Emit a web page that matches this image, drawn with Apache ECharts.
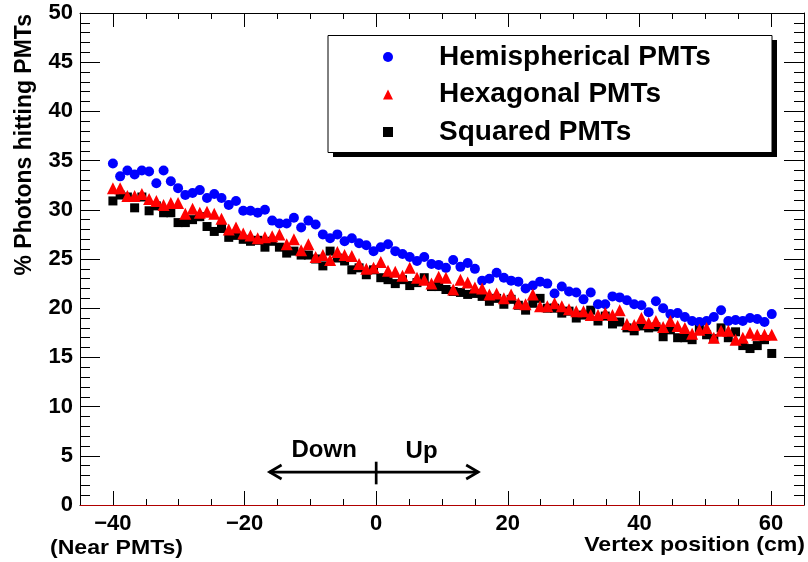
<!DOCTYPE html>
<html>
<head>
<meta charset="utf-8">
<script src="https://cdn.jsdelivr.net/npm/echarts@6/dist/echarts.min.js"></script>
<style>html,body{margin:0;padding:0;background:#fff}#c{width:808px;height:562px}</style>
</head>
<body>
<div id="c"></div>
<script>
// Vertex positions (cm)
var xPos = [-40,-38.9,-37.8,-36.7,-35.6,-34.5,-33.4,-32.3,-31.2,-30.1,-29,-27.9,-26.8,-25.7,-24.6,-23.5,-22.4,-21.3,-20.2,-19.1,
  -18,-16.9,-15.8,-14.7,-13.6,-12.5,-11.4,-10.3,-9.2,-8.1,-7,-5.9,-4.8,-3.7,-2.6,-1.5,-0.4,0.7,1.8,2.9,
  4,5.1,6.2,7.3,8.4,9.5,10.6,11.7,12.8,13.9,15,16.1,17.2,18.3,19.4,20.5,21.6,22.7,23.8,24.9,
  26,27.1,28.2,29.3,30.4,31.5,32.6,33.7,34.8,35.9,37,38.1,39.2,40.3,41.4,42.5,43.6,44.7,45.8,46.9,
  48,49.1,50.2,51.3,52.4,53.5,54.6,55.7,56.8,57.9,59,60.1];
var hemispherical = [34.7,33.4,34.0,33.6,34.0,33.9,32.7,34.0,32.9,32.2,31.5,31.7,32.0,31.2,31.6,31.2,30.5,30.9,29.9,29.9,
  29.7,30.0,28.9,28.6,28.6,29.2,28.2,28.9,28.5,27.5,27.1,27.5,26.8,27.1,26.6,26.4,25.8,26.2,26.5,25.8,
  25.5,25.2,24.8,25.2,24.5,24.4,24.1,24.9,24.2,24.6,24.0,22.8,23.0,23.6,23.1,22.8,22.7,22.0,22.3,22.7,
  22.5,21.5,22.2,21.7,21.6,20.9,21.6,20.4,20.4,21.2,21.1,20.8,20.4,20.3,19.6,20.7,20.0,19.4,19.5,19.1,
  18.7,18.6,18.7,19.1,19.8,18.7,18.8,18.7,19.0,18.9,18.6,19.4];
var hexagonal = [32.2,32.2,31.4,31.4,31.6,31.1,30.9,30.5,30.7,30.7,29.6,30.1,29.7,29.8,29.6,29.1,28.0,28.2,27.6,27.4,
  27.1,27.2,27.3,27.5,26.5,27.0,25.9,26.5,25.2,25.4,24.9,25.7,25.4,25.3,24.5,24.0,24.1,24.7,23.8,23.7,
  23.3,24.1,23.1,22.9,22.5,23.2,23.1,21.9,22.9,22.6,22.1,22.0,21.4,21.5,21.0,21.4,20.5,20.4,21.4,20.2,
  20.2,20.5,20.2,19.9,19.7,19.7,19.3,19.3,19.5,19.3,19.8,18.4,18.3,19.0,18.5,18.7,18.1,18.7,18.2,18.0,
  17.4,17.8,18.0,17.0,17.7,17.7,16.8,17.0,17.5,17.3,17.3,17.3];
var squared = [30.9,31.5,31.3,30.2,31.3,29.9,30.4,29.7,29.7,28.7,28.7,29.0,29.3,28.3,27.8,28.1,27.2,27.4,27.0,26.8,
  26.9,26.2,26.8,26.2,25.6,25.8,25.4,25.4,25.0,24.3,25.8,25.1,24.8,23.9,24.1,23.4,23.9,23.1,22.9,22.5,
  22.9,22.3,22.6,23.1,22.2,22.2,21.9,21.7,21.6,21.4,21.5,21.2,20.7,21.0,20.4,20.9,20.3,19.8,20.5,21.0,
  20.0,20.0,19.5,19.7,19.0,19.3,19.8,18.7,19.2,18.4,18.6,18.0,17.7,18.2,18.0,18.1,17.1,17.8,17.0,17.0,
  16.8,18.0,17.3,16.9,18.0,17.0,17.6,16.2,15.9,16.2,16.8,15.4];
var seriesNames = ['Hemispherical PMTs', 'Hexagonal PMTs', 'Squared PMTs'];
var xTicks = [-40, -20, 0, 20, 40, 60];
var yTicks = [0, 5, 10, 15, 20, 25, 30, 35, 40, 45, 50];

function zip(ys) { return xPos.map(function (x, i) { return [x, ys[i]]; }); }

var FONT = '"Liberation Sans", Arial, sans-serif';
var chart = echarts.init(document.getElementById('c'), null, { renderer: 'canvas' });

var LINE = { show: true, onZero: false, lineStyle: { color: '#000', width: 1 } };
var NOLINE = { show: false, onZero: false };

function xAxisDef(pos, tickLen, major, withLabel) {
  var a = {
    type: 'value', min: -45, max: 65, interval: 5, position: pos,
    axisLine: major ? NOLINE : LINE,
    splitLine: { show: false },
    axisTick: { show: true, inside: true, length: tickLen, lineStyle: { color: '#000' } },
    axisLabel: { show: false }
  };
  if (major) a.axisTick.customValues = xTicks;
  if (withLabel) {
    a.axisLabel = { show: true, margin: 8, color: '#000', fontFamily: FONT, fontWeight: 'bold', fontSize: 22,
      customValues: xTicks,
      formatter: function (v) { return xTicks.indexOf(v) >= 0 ? String(v).replace('-', '\u2212') : ''; } };
  }
  return a;
}
function yAxisDef(pos, withLabel) {
  var a = {
    type: 'value', min: 0, max: 50, interval: 5, position: pos,
    axisLine: LINE,
    splitLine: { show: false },
    axisTick: { show: true, inside: true, length: 20, lineStyle: { color: '#000' } },
    minorTick: { show: true, splitNumber: 5, length: 10, lineStyle: { color: '#000' } },
    axisLabel: { show: false }
  };
  if (withLabel) {
    a.axisLabel = { show: true, margin: 7, color: '#000', fontFamily: FONT, fontWeight: 'bold', fontSize: 22,
      formatter: function (v) { return yTicks.indexOf(v) >= 0 ? String(v) : ''; } };
  }
  return a;
}

var option = {
  animation: false,
  backgroundColor: '#fff',
  grid: { left: 80, right: 4, top: 13, bottom: 57, containLabel: false },
  xAxis: [
    xAxisDef('bottom', 6, false, true),
    xAxisDef('top', 6, false, false),
    xAxisDef('bottom', 14, true, false),
    xAxisDef('top', 14, true, false)
  ],
  yAxis: [yAxisDef('left', true), yAxisDef('right', false)],
  legend: {
    left: 378, top: 38, orient: 'vertical', itemGap: 9.5, itemWidth: 10, itemHeight: 10,
    data: seriesNames,
    textStyle: { color: '#000', fontFamily: FONT, fontWeight: 'bold', fontSize: 28, padding: [0, 0, 0, 41] },
    z: 10
  },
  series: [
    { name: seriesNames[0], type: 'scatter', data: zip(hemispherical), symbol: 'circle', symbolSize: 10,
      itemStyle: { color: '#0000ff', opacity: 1 }, z: 3,
      markLine: { silent: true, symbol: 'none', label: { show: false },
        lineStyle: { color: '#b00000', width: 1, type: 'solid' }, data: [{ yAxis: 0 }] } },
    { name: seriesNames[1], type: 'scatter', data: zip(hexagonal), symbol: 'triangle', symbolSize: 12,
      itemStyle: { color: '#ff0000', opacity: 1 }, z: 4 },
    { name: seriesNames[2], type: 'scatter', data: zip(squared), symbol: 'rect', symbolSize: 9,
      itemStyle: { color: '#000000', opacity: 1 }, z: 2 }
  ]
};
chart.setOption(option);

// Annotations placed through the chart's own coordinate conversion
function px(x, y) { return chart.convertToPixel({ gridIndex: 0 }, [x, y]); }
var aL = px(-16.2, 3.35), aR = px(15.5, 3.35), t1 = px(0, 4.4), t2 = px(0, 2.1);
var ah = 12, aw = 7;
chart.setOption({
  graphic: [
    { type: 'rect', shape: { x: 333, y: 40, width: 444, height: 117 }, style: { fill: '#000' }, z: 1 },
    { type: 'rect', shape: { x: 328, y: 35.5, width: 444, height: 117 }, style: { fill: '#fff', stroke: '#000', lineWidth: 1 }, z: 2 },
    { type: 'text', x: 25, y: 14, rotation: Math.PI / 2,
      style: { text: '% Photons hitting PMTs', fill: '#000', font: 'bold 23px ' + FONT, textAlign: 'right', textVerticalAlign: 'middle' } },
    { type: 'text', x: 805, y: 545, scaleX: 1.1,
      style: { text: 'Vertex position (cm)', fill: '#000', font: 'bold 21px ' + FONT, textAlign: 'right', textVerticalAlign: 'middle' } },
    { type: 'text', x: 50, y: 548, scaleX: 1.1,
      style: { text: '(Near PMTs)', fill: '#000', font: 'bold 21px ' + FONT, textAlign: 'left', textVerticalAlign: 'middle' } },
    { type: 'line', shape: { x1: aL[0], y1: aL[1], x2: aR[0], y2: aR[1] }, style: { stroke: '#000', lineWidth: 2.7 } },
    { type: 'polyline', shape: { points: [[aL[0] + ah, aL[1] - aw], [aL[0], aL[1]], [aL[0] + ah, aL[1] + aw]] }, style: { stroke: '#000', lineWidth: 2.7, fill: null } },
    { type: 'polyline', shape: { points: [[aR[0] - ah, aR[1] - aw], [aR[0], aR[1]], [aR[0] - ah, aR[1] + aw]] }, style: { stroke: '#000', lineWidth: 2.7, fill: null } },
    { type: 'line', shape: { x1: t1[0], y1: t1[1], x2: t2[0], y2: t2[1] }, style: { stroke: '#000', lineWidth: 2.7 } },
    { type: 'text', x: px(-7.9, 0)[0], y: px(0, 5.6)[1],
      style: { text: 'Down', fill: '#000', font: 'bold 24px ' + FONT, textAlign: 'center', textVerticalAlign: 'middle' } },
    { type: 'text', x: px(6.9, 0)[0], y: px(0, 5.4)[1],
      style: { text: 'Up', fill: '#000', font: 'bold 24px ' + FONT, textAlign: 'center', textVerticalAlign: 'middle' } }
  ]
});
</script>
</body>
</html>
